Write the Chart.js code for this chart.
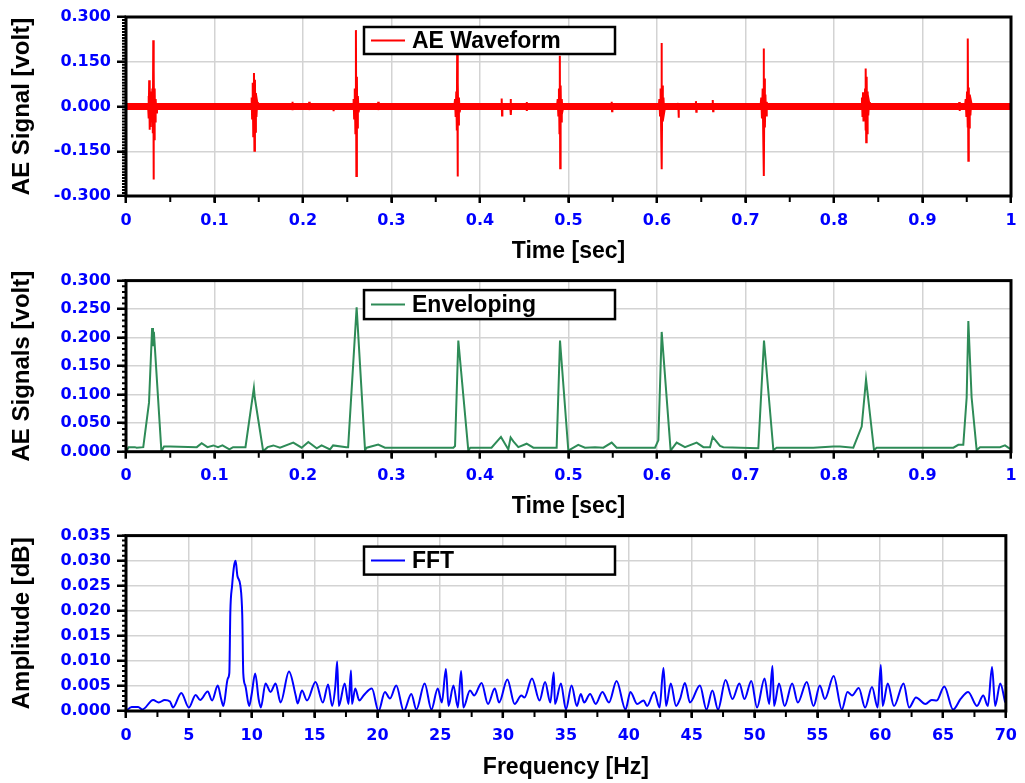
<!DOCTYPE html>
<html>
<head>
<meta charset="utf-8">
<script src="https://cdn.jsdelivr.net/npm/chart.js@4.4.0/dist/chart.umd.min.js"></script>
<style>
  body { margin: 0; background: #fff; }
  canvas { position: absolute; left: 0; }
</style>
</head>
<body>
<canvas id="wave" width="1025" height="265" style="top:0px"></canvas>
<canvas id="envelope" width="1025" height="255" style="top:265px"></canvas>
<canvas id="fft" width="1025" height="263" style="top:520px"></canvas>
<script>
// AE waveform as [time, volt] (bursts + the larger noise blips)
const aeWaveform = [
  [0, 0],
  [0.0250, 0], [0.0255, 0.035], [0.0258, -0.04], [0.0262, 0.088], [0.0266, -0.078], [0.0270, 0.07],
  [0.0274, -0.065], [0.0278, 0.05], [0.0283, -0.05], [0.0288, 0.04], [0.0293, -0.035], [0.0298, 0.06],
  [0.0303, -0.09], [0.0308, 0.222], [0.0311, -0.245], [0.0315, 0.12], [0.0319, -0.11], [0.0324, 0.06],
  [0.0329, -0.05], [0.0335, 0.025], [0.0342, -0.02], [0.0350, 0],
  [0.1415, 0], [0.1420, 0.03], [0.1425, -0.04], [0.1432, 0.08], [0.1438, -0.1], [0.1446, 0.112],
  [0.1451, -0.148], [0.1457, 0.09], [0.1462, -0.085], [0.1468, 0.045], [0.1474, -0.035], [0.1482, 0.015], [0.1490, 0],
  [0.1876, 0], [0.1880, 0.016], [0.1884, -0.012], [0.1888, 0],
  [0.2066, 0], [0.2070, 0.016], [0.2074, -0.012], [0.2078, 0],
  [0.2336, 0], [0.2340, 0.01], [0.2344, -0.016], [0.2348, 0],
  [0.2565, 0], [0.2572, 0.025], [0.2578, -0.04], [0.2585, 0.06], [0.2592, -0.09], [0.2598, 0.256],
  [0.2603, -0.233], [0.2609, 0.1], [0.2614, -0.07], [0.2620, 0.035], [0.2628, -0.02], [0.2638, 0],
  [0.2846, 0], [0.2850, 0.016], [0.2854, -0.012], [0.2858, 0],
  [0.3710, 0], [0.3718, 0.025], [0.3725, -0.035], [0.3732, 0.05], [0.3738, -0.08], [0.3742, 0.19],
  [0.3746, -0.235], [0.3751, 0.08], [0.3756, -0.06], [0.3762, 0.03], [0.3770, -0.02], [0.3780, 0],
  [0.4241, 0], [0.4245, 0.027], [0.4249, -0.03], [0.4253, 0],
  [0.4342, 0], [0.4346, 0.025], [0.4350, -0.028], [0.4354, 0],
  [0.4523, 0], [0.4527, 0.015], [0.4531, -0.015], [0.4535, 0],
  [0.4870, 0], [0.4878, 0.025], [0.4885, -0.03], [0.4892, 0.06], [0.4898, -0.09], [0.4902, 0.17],
  [0.4906, -0.207], [0.4911, 0.07], [0.4917, -0.05], [0.4924, 0.025], [0.4932, -0.015], [0.4942, 0],
  [0.5484, 0], [0.5488, 0.016], [0.5492, -0.016], [0.5496, 0],
  [0.6020, 0], [0.6027, 0.025], [0.6034, -0.03], [0.6041, 0.06], [0.6047, -0.08], [0.6051, 0.213],
  [0.6055, -0.21], [0.6060, 0.07], [0.6066, -0.05], [0.6073, 0.03], [0.6081, -0.02], [0.6092, 0],
  [0.6236, 0], [0.6240, 0.012], [0.6244, -0.038], [0.6248, 0],
  [0.6436, 0], [0.6440, 0.018], [0.6444, -0.018], [0.6448, 0],
  [0.6626, 0], [0.6630, 0.022], [0.6634, -0.016], [0.6638, 0],
  [0.7170, 0], [0.7178, 0.03], [0.7186, -0.04], [0.7194, 0.06], [0.7200, -0.09], [0.7205, 0.194],
  [0.7209, -0.233], [0.7214, 0.094], [0.7219, -0.07], [0.7225, 0.04], [0.7232, -0.03], [0.7240, 0.015], [0.7250, 0],
  [0.8310, 0], [0.8316, 0.03], [0.8322, -0.035], [0.8328, 0.048], [0.8333, -0.05], [0.8339, 0.04],
  [0.8345, -0.045], [0.8351, 0.06], [0.8356, -0.08], [0.8360, 0.127], [0.8364, -0.12], [0.8369, 0.1],
  [0.8374, -0.09], [0.8380, 0.05], [0.8387, -0.03], [0.8396, 0.015], [0.8405, 0],
  [0.9411, 0], [0.9415, 0.015], [0.9419, -0.015], [0.9423, 0],
  [0.9480, 0], [0.9488, 0.025], [0.9496, -0.035], [0.9503, 0.05], [0.9509, -0.07], [0.9514, 0.228],
  [0.9518, -0.182], [0.9523, 0.064], [0.9528, -0.07], [0.9534, 0.04], [0.9541, -0.03], [0.9550, 0.015], [0.9560, 0],
  [1, 0]
];
// the dense background noise of the waveform, as a band
const noiseTime = [0, 1];
const noiseUpper = [0.012, 0.012];
const noiseLower = [-0.012, -0.012];

// envelope as [time, volt]
const envelope = [
  [0, 0], [0.003, 0.008], [0.010, 0.008], [0.012, 0.007], [0.0195, 0.008], [0.026, 0.086], [0.0295, 0.217],
  [0.0305, 0.185], [0.0315, 0.21], [0.040, 0.001], [0.043, 0.009], [0.050, 0.009], [0.080, 0.008],
  [0.0855, 0.015], [0.092, 0.008], [0.0987, 0.011], [0.104, 0.008], [0.109, 0.011], [0.1168, 0.004],
  [0.121, 0.008], [0.135, 0.008], [0.1445, 0.112], [0.1455, 0.095], [0.155, 0.001], [0.160, 0.008],
  [0.1665, 0.011], [0.174, 0.007], [0.189, 0.016], [0.1985, 0.007], [0.206, 0.017], [0.2155, 0.006],
  [0.221, 0.011], [0.2305, 0.004], [0.234, 0.011], [0.249, 0.008], [0.251, 0.008], [0.2606, 0.253],
  [0.2701, 0.003], [0.272, 0.007], [0.285, 0.0125], [0.2926, 0.007], [0.3699, 0.007], [0.3718, 0.01],
  [0.3755, 0.195], [0.3868, 0.002], [0.389, 0.007], [0.413, 0.007], [0.4237, 0.026], [0.432, 0.004],
  [0.4346, 0.025], [0.4377, 0.018], [0.4433, 0.008], [0.4527, 0.014], [0.4603, 0.007], [0.4866, 0.007],
  [0.4904, 0.195], [0.4998, 0.002], [0.511, 0.012], [0.5186, 0.007], [0.53, 0.008], [0.5394, 0.007],
  [0.5488, 0.016], [0.5544, 0.007], [0.5977, 0.007], [0.6015, 0.02], [0.6053, 0.21], [0.6154, 0.002],
  [0.6222, 0.016], [0.6316, 0.008], [0.6448, 0.016], [0.6524, 0.008], [0.6599, 0.008], [0.6629, 0.026],
  [0.6712, 0.010], [0.675, 0.008], [0.7145, 0.006], [0.7209, 0.195], [0.7315, 0.003], [0.7352, 0.007],
  [0.7766, 0.007], [0.7993, 0.009], [0.8068, 0.009], [0.8218, 0.007], [0.8313, 0.044], [0.8362, 0.127],
  [0.8452, 0.003], [0.8482, 0.007], [0.9349, 0.007], [0.9405, 0.012], [0.9461, 0.012], [0.9499, 0.095],
  [0.9518, 0.229], [0.9555, 0.095], [0.9612, 0.003], [0.965, 0.008], [0.9876, 0.008], [0.9932, 0.011],
  [0.999, 0.005]
];

// FFT spectrum as [Hz, amplitude]
const spectrum = [
  [0, 0], [0.45, 0.0008], [0.97, 0.0008], [1.3, 0.0003], [2.16, 0.0022], [2.6, 0.0017], [3.08, 0.0022],
  [3.5, 0.0019], [3.74, 0.0007], [4.4, 0.0036], [5.0, 0.0007], [5.54, 0.0032], [5.9, 0.0022], [6.5, 0.0039],
  [6.85, 0.0021], [7.3, 0.0051], [7.57, 0.0024], [7.75, 0.001], [8.1, 0.0065], [8.22, 0.0076], [8.3, 0.0197],
  [8.44, 0.025], [8.6, 0.029], [8.72, 0.030], [8.86, 0.027], [9.1, 0.025], [9.25, 0.019], [9.33, 0.0075],
  [9.49, 0.0051], [9.8, 0.001], [10.0, 0.0034], [10.28, 0.0075], [10.55, 0.0024], [10.73, 0.0007],
  [11.1, 0.0055], [11.5, 0.0038], [11.9, 0.0055], [12.3, 0.0017], [12.97, 0.0079], [13.5, 0.0031],
  [13.65, 0.0015], [14.0, 0.0041], [14.4, 0.0021], [15.08, 0.0058], [15.66, 0.0017], [16.08, 0.0053],
  [16.4, 0.001], [16.66, 0.0051], [16.8, 0.0099], [16.93, 0.001], [17.4, 0.0055], [17.7, 0.0014],
  [17.9, 0.0081], [17.98, 0.0014], [18.24, 0.0045], [18.56, 0.0021], [18.9, 0.0031], [19.56, 0.0045],
  [20.09, 0], [20.6, 0.0038], [21.0, 0.0025], [21.5, 0.0051], [22.1, 0], [22.7, 0.0034], [23.1, 0.0003],
  [23.76, 0.0055], [24.3, 0.0003], [24.8, 0.0045], [25.13, 0.0017], [25.45, 0.0084], [25.66, 0.001],
  [26.05, 0.0051], [26.4, 0.0007], [26.66, 0.008], [26.84, 0.0007], [27.37, 0.0041], [27.7, 0.0031],
  [28.29, 0.0056], [28.8, 0.0014], [29.34, 0.0045], [29.68, 0.0017], [30.34, 0.0063], [30.92, 0.0014],
  [31.45, 0.0031], [31.7, 0.0027], [32.3, 0.0065], [32.9, 0.0021], [33.34, 0.0058], [33.76, 0.0017],
  [34.03, 0.0077], [34.13, 0.0014], [34.6, 0.0055], [35.0, 0.0003], [35.45, 0.0051], [35.87, 0.001],
  [36.18, 0.0034], [36.45, 0.0017], [36.92, 0.0034], [37.37, 0.0014], [37.9, 0.0038], [38.42, 0.0017],
  [39.03, 0.006], [39.74, 0.0003], [40.13, 0.0038], [40.66, 0.0014], [41.18, 0.0021], [41.45, 0.001],
  [42.03, 0.0038], [42.45, 0.0007], [42.76, 0.0086], [42.97, 0.001], [43.34, 0.0055], [43.76, 0.001],
  [44.08, 0.0024], [44.47, 0.0056], [44.87, 0.0017], [45.66, 0.0051], [46.18, 0.0003], [46.65, 0.0041],
  [47.1, 0.0003], [47.7, 0.0062], [48.25, 0.0024], [48.8, 0.0055], [49.2, 0.0024], [49.75, 0.006],
  [50.2, 0.0007], [50.8, 0.0065], [51.17, 0.0014], [51.43, 0.009], [51.56, 0.001], [51.95, 0.0055],
  [52.4, 0.001], [53.0, 0.0055], [53.45, 0.0017], [54.16, 0.0058], [54.7, 0.001], [55.2, 0.0051],
  [55.6, 0.0024], [56.3, 0.007], [56.95, 0.0003], [57.4, 0.0038], [57.76, 0.0031], [58.3, 0.0046],
  [58.8, 0.0007], [59.35, 0.0048], [59.8, 0.0007], [60.05, 0.0092], [60.2, 0.001], [60.6, 0.0055],
  [61.1, 0.001], [61.86, 0.0055], [62.3, 0.0007], [62.85, 0.0027], [63.6, 0.0014], [64.1, 0.0022],
  [64.5, 0.0021], [65.1, 0.0049], [65.8, 0.0003], [66.4, 0.0024], [67.0, 0.0038], [67.7, 0.001],
  [68.2, 0.0031], [68.57, 0.001], [68.9, 0.0088], [69.15, 0.001], [69.55, 0.0055], [69.95, 0.0017]
];

const toXY = (pairs) => pairs.map((p) => ({ x: p[0], y: p[1] }));

const tickFont = { family: "'DejaVu Sans', Verdana, sans-serif", size: 16, weight: "bold" };
const xTitleFont = { family: "'Liberation Sans', Arial, sans-serif", size: 23, weight: "bold" };
const yTitleFont = { family: "'Liberation Sans', Arial, sans-serif", size: 24, weight: "bold" };

// minor ticks + heavy frame around the plot
const frameTicks = {
  id: "frameTicks",
  afterDraw(chart, args, opts) {
    const ctx = chart.ctx;
    const a = chart.chartArea;
    const xs = chart.scales.x;
    const ys = chart.scales.y;
    ctx.save();
    ctx.strokeStyle = "#000";
    ctx.lineWidth = 2;
    ctx.beginPath();
    const nx = Math.round((xs.max - xs.min) / opts.xMinor);
    for (let i = 0; i <= nx; i++) {
      const px = xs.getPixelForValue(xs.min + i * opts.xMinor);
      ctx.moveTo(px, a.bottom);
      ctx.lineTo(px, a.bottom + 6);
    }
    const ny = Math.round((ys.max - ys.min) / opts.yMinor);
    for (let i = 0; i <= ny; i++) {
      const py = ys.getPixelForValue(ys.min + i * opts.yMinor);
      ctx.moveTo(a.left, py);
      ctx.lineTo(a.left - 4, py);
    }
    ctx.stroke();
    ctx.lineWidth = 3;
    ctx.strokeRect(a.left, a.top, a.right - a.left, a.bottom - a.top);
    ctx.restore();
  }
};

// boxed legend sitting inside the plot
const boxLegend = {
  id: "boxLegend",
  afterDatasetsDraw(chart, args, opts) {
    const ctx = chart.ctx;
    const a = chart.chartArea;
    const ds = chart.data.datasets[opts.datasetIndex];
    const x = a.left + opts.left;
    const y = a.top + opts.top;
    const mid = y + opts.height / 2;
    ctx.save();
    ctx.fillStyle = "#fff";
    ctx.fillRect(x, y, opts.width, opts.height);
    ctx.strokeStyle = "#000";
    ctx.lineWidth = 2.5;
    ctx.strokeRect(x, y, opts.width, opts.height);
    ctx.strokeStyle = ds.borderColor;
    ctx.lineWidth = 2;
    ctx.beginPath();
    ctx.moveTo(x + 7, mid);
    ctx.lineTo(x + 41, mid);
    ctx.stroke();
    ctx.fillStyle = "#000";
    ctx.font = "bold 23px 'Liberation Sans', Arial, sans-serif";
    ctx.textBaseline = "middle";
    ctx.fillText(ds.label, x + 48, mid + 1);
    ctx.restore();
  }
};

function makeOptions(o) {
  return {
    responsive: false,
    animation: false,
    events: [],
    devicePixelRatio: 1,
    layout: { padding: { left: 4, right: 14, top: o.top, bottom: o.bottom } },
    plugins: {
      legend: { display: false },
      tooltip: { enabled: false },
      boxLegend: o.legend,
      frameTicks: { xMinor: o.xMinor, yMinor: o.yMinor }
    },
    scales: {
      x: {
        type: "linear",
        min: o.xMin,
        max: o.xMax,
        afterFit: (s) => { s.height = o.xHeight; },
        ticks: { stepSize: o.xStep, color: "#0000ff", font: tickFont, padding: 8, maxRotation: 0, autoSkip: false, callback: o.xFormat },
        grid: { color: "#d3d3d3", lineWidth: 1.5, tickColor: "#000", tickLength: 7, tickWidth: 2.5 },
        border: { display: false },
        title: { display: true, text: o.xTitle, color: "#000", font: xTitleFont, padding: { top: 4, bottom: 0 } }
      },
      y: {
        type: "linear",
        min: o.yMin,
        max: o.yMax,
        afterFit: (s) => { s.width = 122; },
        ticks: { stepSize: o.yStep, color: "#0000ff", font: tickFont, padding: 6, autoSkip: false,
          callback: (v) => (Math.abs(v) < 1e-9 ? "0.000" : v.toFixed(3)) },
        grid: { color: "#d3d3d3", lineWidth: 1.5, tickColor: "#000", tickLength: 9, tickWidth: 2.5 },
        border: { display: false },
        title: { display: true, text: o.yTitle, color: "#000", font: yTitleFont, padding: { top: 4, bottom: 4 } }
      }
    }
  };
}

const timeLabel = (v) => Number(v.toFixed(2)).toString();

var ctxWave = document.getElementById("wave");
new Chart(ctxWave, {
  type: "line",
  data: {
    datasets: [
      { label: "noise+", data: noiseTime.map((t, i) => ({ x: t, y: noiseUpper[i] })), borderWidth: 0, pointRadius: 0,
        backgroundColor: "#ff0000", fill: "+1" },
      { label: "noise-", data: noiseTime.map((t, i) => ({ x: t, y: noiseLower[i] })), borderWidth: 0, pointRadius: 0, fill: false },
      { label: "AE Waveform", data: toXY(aeWaveform), borderColor: "#ff0000", borderWidth: 2, pointRadius: 0, tension: 0, fill: false }
    ]
  },
  options: makeOptions({
    top: 17, bottom: 0, xHeight: 69,
    xMin: 0, xMax: 1, xStep: 0.1, xMinor: 0.05, xFormat: timeLabel, xTitle: "Time [sec]",
    yMin: -0.3, yMax: 0.3, yStep: 0.15, yMinor: 0.01, yTitle: "AE Signal [volt]",
    legend: { datasetIndex: 2, left: 238, top: 10, width: 251, height: 27 }
  }),
  plugins: [boxLegend, frameTicks]
});

var ctxEnvelope = document.getElementById("envelope");
new Chart(ctxEnvelope, {
  type: "line",
  data: {
    datasets: [
      { label: "Enveloping", data: toXY(envelope), borderColor: "#2e8b57", borderWidth: 2, pointRadius: 0, tension: 0, fill: false }
    ]
  },
  options: makeOptions({
    top: 12.7, bottom: 0, xHeight: 68.3,
    xMin: 0, xMax: 1, xStep: 0.1, xMinor: 0.05, xFormat: timeLabel, xTitle: "Time [sec]",
    yMin: 0, yMax: 0.3, yStep: 0.05, yMinor: 0.01, yTitle: "AE Signals [volt]",
    legend: { datasetIndex: 0, left: 238, top: 9.5, width: 251, height: 29 }
  }),
  plugins: [boxLegend, frameTicks]
});

var ctxFft = document.getElementById("fft");
new Chart(ctxFft, {
  type: "line",
  data: {
    datasets: [
      { label: "FFT", data: toXY(spectrum), borderColor: "#0000ff", borderWidth: 2, pointRadius: 0,
        cubicInterpolationMode: "monotone", fill: false }
    ]
  },
  options: makeOptions({
    top: 15, bottom: 2, xHeight: 70,
    xMin: 0, xMax: 70, xStep: 5, xMinor: 2.5, xFormat: (v) => String(Math.round(v)), xTitle: "Frequency [Hz]",
    yMin: 0, yMax: 0.035, yStep: 0.005, yMinor: 0.001, yTitle: "Amplitude [dB]",
    legend: { datasetIndex: 0, left: 238, top: 11, width: 251, height: 28 }
  }),
  plugins: [boxLegend, frameTicks]
});
</script>
</body>
</html>
